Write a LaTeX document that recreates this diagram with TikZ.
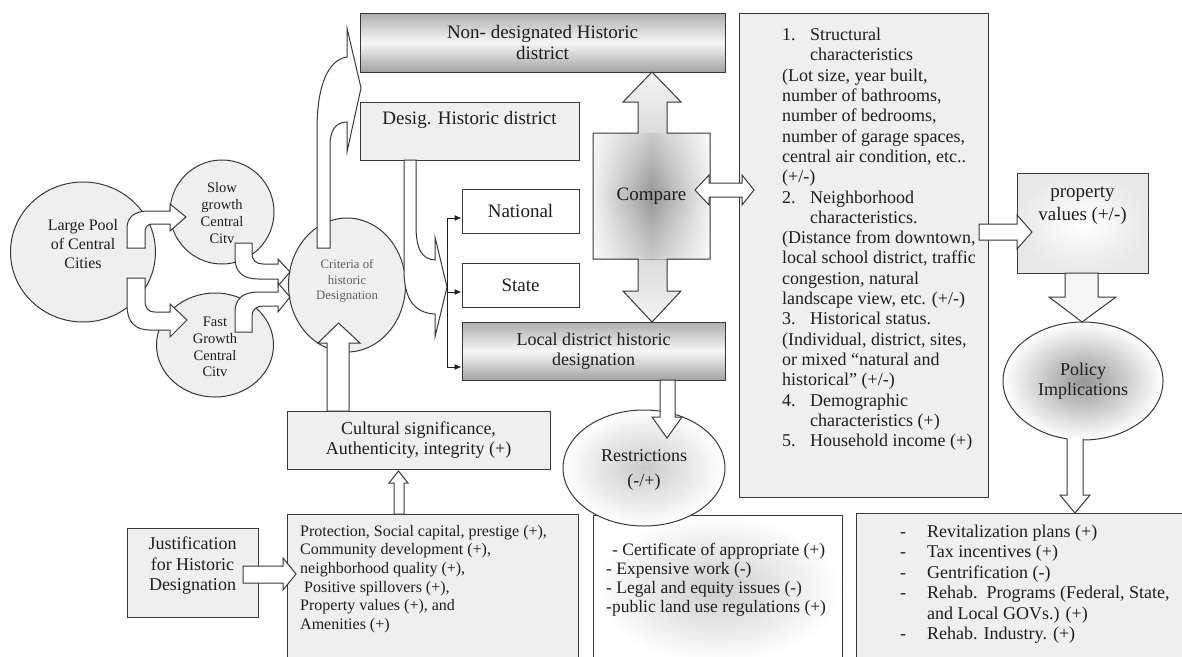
\documentclass[tikz,border=0pt]{standalone}
\usepackage{fontspec}
\setmainfont{Liberation Serif}
\usetikzlibrary{arrows.meta,shapes.geometric,fadings}
\definecolor{linec}{HTML}{383838}
\definecolor{boxfill}{HTML}{EFEFEF}
\definecolor{textc}{HTML}{1E1E1E}
\tikzfading[name=vmid, top color=transparent!50, bottom color=transparent!50, middle color=transparent!100]
\begin{document}
\begin{tikzpicture}[x=1pt,y=-1pt,
 every node/.style={text=textc},
 box/.style={draw=linec, fill=boxfill, line width=1pt, inner sep=0pt},
 gradbox/.style={draw=linec, line width=1pt, inner sep=0pt, top color=gray!64, bottom color=gray!72, middle color=gray!7},
 barrow/.style={draw=linec, fill=white, line width=1pt, line join=miter},
 outline/.style={draw=linec, line width=1pt, line join=miter},
 fbig/.style={font=\fontsize{19}{21}\selectfont},
 fmid/.style={font=\fontsize{18}{20.5}\selectfont},
 fchar/.style={font=\fontsize{18}{20.3}\selectfont},
 frest/.style={font=\fontsize{17.5}{19}\selectfont},
 fsm/.style={font=\fontsize{16}{18.6}\selectfont},
 fpool/.style={font=\fontsize{16}{19}\selectfont},
 fcity/.style={font=\fontsize{14.5}{16.7}\selectfont},
 fcrit/.style={font=\fontsize{12.8}{15.5}\selectfont},
 tip/.style={-{Latex[length=7pt,width=6pt]}, draw=textc, line width=1pt}
]
\useasboundingbox (0,0) rectangle (1182,656);
\fill[white] (0,0) rectangle (1182,656);

% ---------- circles on the left ----------
\node[ellipse, box, minimum width=145pt, minimum height=140pt] (pool) at (83,252) {};
\node[ellipse, box, minimum width=104pt, minimum height=104pt] (slow) at (222,212) {};
\node[ellipse, box, minimum width=117pt, minimum height=104pt] (fast) at (215,345) {};
\node[ellipse, box, minimum width=117pt, minimum height=134pt] (crit) at (347,285) {};
\node[fpool, align=center] (poolT) at (83,244) {Large Pool\\of Central\\Cities};
\node[fcity, align=center] (slowT) at (222,213) {Slow\\growth\\Central\\Citv};
\node[fcity, align=center] (fastT) at (215,347) {Fast\\Growth\\Central\\Citv};
\node[fcrit, align=center, text=gray!75!black] (critT) at (347,281) {Criteria of\\historic\\Designation};

% curved block arrows
\draw[barrow] (127,248) -- (127,228) .. controls (127,217) and (135,211) .. (148,211) -- (170,211) -- (170,204) -- (186,217) -- (170,231) -- (170,224) -- (152,224) .. controls (148,224) and (145,227) .. (145,232) -- (145,248) -- cycle;
\draw[barrow] (127,278) -- (127,305) .. controls (127,322) and (135,330) .. (150,330) -- (170,330) -- (170,337) -- (187,320) -- (170,304) -- (170,312) -- (155,312) .. controls (148,312) and (145,308) .. (145,300) -- (145,278) -- cycle;
\draw[barrow] (235,243) -- (235,258) .. controls (235,272) and (243,279) .. (258,279) -- (278,279) -- (278,286) -- (290,272) -- (278,259) -- (278,264) -- (263,264) .. controls (256,264) and (252,260) .. (252,254) -- (252,243) -- cycle;
\draw[barrow] (235,332) -- (235,312) .. controls (235,299) and (243,292) .. (258,292) -- (278,292) -- (278,283) -- (290,297) -- (278,312) -- (278,306) -- (263,306) .. controls (256,306) and (252,310) .. (252,316) -- (252,332) -- cycle;

% ---------- top boxes ----------
\node[gradbox, minimum width=365pt, minimum height=59pt, fbig, align=center] (nondes) at (542.5,42.5) {Non- designated Historic\\district};
\node[box, minimum width=219pt, minimum height=58pt] (desig) at (469.5,131) {};
\node[fbig] (desigT) at (469.5,120) {Desig. Historic district};
\node[box, fill=white, minimum width=117pt, minimum height=44pt, fbig] (national) at (520.5,211) {National};
\node[box, fill=white, minimum width=117pt, minimum height=44pt, fbig] (state) at (520.5,285) {State};
\node[gradbox, minimum width=263pt, minimum height=58pt, fmid, align=center] (local) at (593.5,351) {Local district historic\\designation};

% arrow criteria -> non-designated
\draw[barrow] (317,248) -- (317,130) .. controls (317,85) and (328,60) .. (347,57) -- (347,28) -- (361,88) -- (347,152) -- (347,122) .. controls (336,122) and (330,130) .. (330,145) -- (330,248) -- cycle;
% arrow desig -> levels
\draw[barrow] (404,160) -- (404,270) .. controls (404,300) and (415,313) .. (435,314) -- (435,337) -- (447,287) -- (435,237) -- (435,260) .. controls (422,259) and (416,250) .. (416,225) -- (416,160) -- cycle;

% bracket
\coordinate (b1) at (447,218);
\coordinate (b2) at (447,292);
\coordinate (b3) at (447,367);
\draw[draw=textc, line width=1pt] (b1) -- (b3);
\draw[tip] (b1) -- (b1 -| national.west);
\draw[tip] (b2) -- (b2 -| state.west);
\draw[tip] (b3) -- (b3 -| local.west);

% ---------- compare ----------
\path[top color=gray!8, bottom color=gray!8, middle color=gray!50] (652,72) -- (681,102) -- (667,102) -- (667,133) -- (710,133) -- (710,259) -- (667,259) -- (667,291) -- (681,291) -- (652,322) -- (623,291) -- (638,291) -- (638,259) -- (593,259) -- (593,133) -- (638,133) -- (638,102) -- (623,102) -- cycle;
\path[left color=gray!10, right color=gray!10, middle color=gray!82] (593,133) rectangle (710,259);
\fill[white, path fading=vmid] (593,133) rectangle (710,259);
\node[fbig, minimum width=117pt, minimum height=126pt, inner sep=0pt] (compare) at (651.5,196) {Compare};
\draw[outline] (652,72) -- (681,102) -- (667,102) -- (667,133) -- (710,133) -- (710,259) -- (667,259) -- (667,291) -- (681,291) -- (652,322) -- (623,291) -- (638,291) -- (638,259) -- (593,259) -- (593,133) -- (638,133) -- (638,102) -- (623,102) -- cycle;

% ---------- characteristics ----------
\node[box, minimum width=249pt, minimum height=484pt] (chars) at (863.5,255) {};
\node[fchar, align=left, anchor=north west, inner sep=0pt] (charsT) at (782,28) {%
\makebox[28pt][l]{1.}Structural\\
\hspace*{28pt}characteristics\\
(Lot size, year built,\\
number of bathrooms,\\
number of bedrooms,\\
number of garage spaces,\\
central air condition, etc..\\
(+/-)\\
\makebox[28pt][l]{2.}Neighborhood\\
\hspace*{28pt}characteristics.\\
(Distance from downtown,\\
local school district, traffic\\
congestion, natural\\
landscape view, etc. (+/-)\\
\makebox[28pt][l]{3.}Historical status.\\
(Individual, district, sites,\\
or mixed “natural and\\
historical” (+/-)\\
\makebox[28pt][l]{4.}Demographic\\
\hspace*{28pt}characteristics (+)\\
\makebox[28pt][l]{5.}Household income (+)};
\draw[barrow] (695,190) -- (709,175) -- (709,183) -- (742,183) -- (742,175) -- (754,190) -- (742,205) -- (742,197) -- (709,197) -- (709,205) -- cycle;

% ---------- property values / policy ----------
\node[draw=linec, line width=1pt, inner color=white, outer color=gray!18, minimum width=131pt, minimum height=100pt, inner sep=0pt] (prop) at (1082.5,223) {};
\node[fbig, align=center] (propT) at (1082.5,206) {property\\[2pt]values (+/-)};
\draw[barrow] (979,224) -- (1017,224) -- (1017,215) -- (1032,232) -- (1017,249) -- (1017,240) -- (979,240) -- cycle;
\draw[barrow, fill=gray!8] (1065,273) -- (1098,273) -- (1098,297) -- (1116,297) -- (1082,322) -- (1049,297) -- (1065,297) -- cycle;
\node[ellipse, draw=linec, line width=1pt, inner color=gray!82, outer color=white, minimum width=160pt, minimum height=118pt, inner sep=0pt, fmid, align=center] (policy) at (1083,381) {Policy\\Implications};

% ---------- bottom right ----------
\node[box, minimum width=334pt, minimum height=150pt] (implbox) at (1023,588) {};
\node[fmid, align=left, anchor=north west, inner sep=0pt] (implT) at (900,524.5) {%
\makebox[27pt][l]{-}Revitalization plans (+)\\
\makebox[27pt][l]{-}Tax incentives (+)\\
\makebox[27pt][l]{-}Gentrification (-)\\
\makebox[27pt][l]{-}Rehab.\ \ Programs (Federal, State,\\
\hspace*{27pt}and Local GOVs.) (+)\\
\makebox[27pt][l]{-}Rehab. Industry. (+)};
\fill[white] (1067,438) -- (1067,495) -- (1060,495) -- (1075,513) -- (1090,495) -- (1083,495) -- (1083,438) -- cycle;
\draw[outline] (1067,438.5) -- (1067,495) -- (1060,495) -- (1075,513) -- (1090,495) -- (1083,495) -- (1083,438.5);

% ---------- restrictions ----------
\node[draw=linec, line width=1pt, inner color=gray!38, outer color=white, minimum width=249pt, minimum height=148pt, inner sep=0pt] (restbox) at (717.5,589) {};
\node[frest, align=left, anchor=north west, inner sep=0pt] (restT) at (606,543) {%
\hspace*{6pt}- Certificate of appropriate (+)\\
- Expensive work (-)\\
- Legal and equity issues (-)\\
-public land use regulations (+)};
\node[ellipse, draw=linec, line width=1pt, inner color=gray!42, outer color=white, minimum width=162pt, minimum height=116pt, inner sep=0pt] (restr) at (644,468) {};
\node[fmid, align=center] (restrT) at (644,470) {Restrictions\\[4pt](-/+)};
\draw[barrow] (660,380) -- (675,380) -- (675,417) -- (682,417) -- (667,438) -- (652,417) -- (660,417) -- cycle;

% ---------- bottom left ----------
\node[box, minimum width=263pt, minimum height=58pt, fmid, align=center] (cult) at (418.5,440) {Cultural significance,\\Authenticity, integrity (+)};
\draw[barrow] (327,411) -- (327,343) -- (318,343) -- (338.5,323) -- (360,343) -- (349,343) -- (349,411) -- cycle;
\node[box, minimum width=291pt, minimum height=149pt] (prot) at (432.5,588.5) {};
\node[fsm, align=left, anchor=north west, inner sep=0pt] (protT) at (300,525) {%
Protection, Social capital, prestige (+),\\
Community development (+),\\
neighborhood quality (+),\\
\hspace*{4pt}Positive spillovers (+),\\
Property values (+), and\\
Amenities (+)};
\draw[barrow] (394,514) -- (394,483) -- (389,483) -- (398.5,471) -- (408,483) -- (404,483) -- (404,514) -- cycle;
\node[box, minimum width=131pt, minimum height=89pt] (just) at (192.5,572.5) {};
\node[fmid, align=center] (justT) at (192.5,566) {Justification\\for Historic\\Designation};
\draw[barrow] (243,566) -- (283,566) -- (283,558) -- (296,574) -- (283,590) -- (283,583) -- (243,583) -- cycle;
\end{tikzpicture}
\end{document}
